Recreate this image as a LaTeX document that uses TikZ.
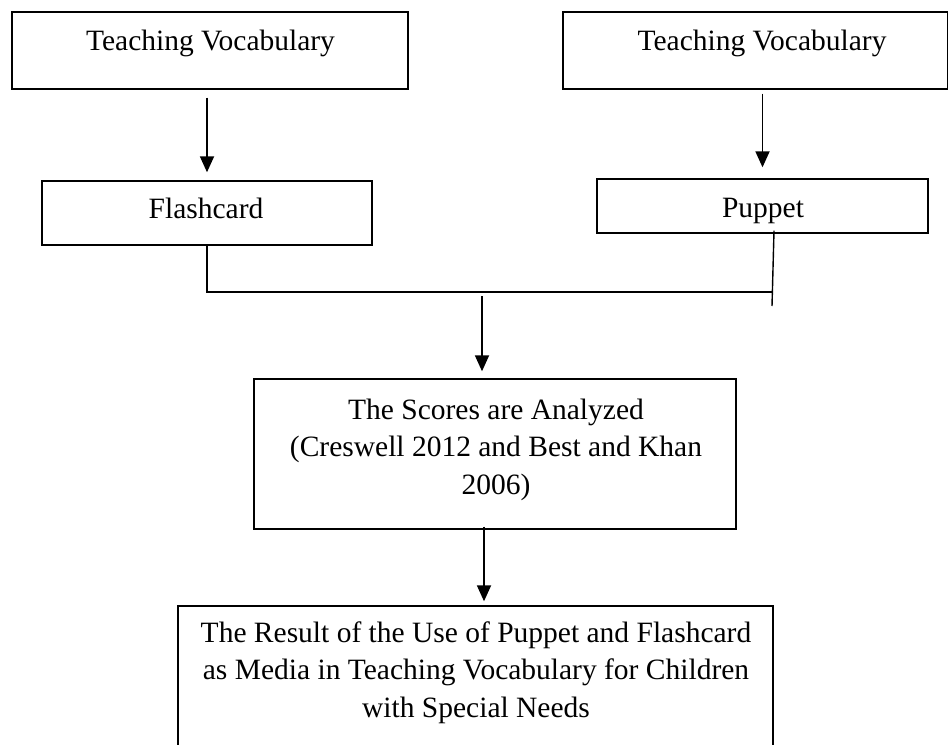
\documentclass[tikz,border=0pt]{standalone}
\usepackage{fontspec}
\setmainfont{Liberation Serif}
\usetikzlibrary{arrows.meta}
\begin{document}
\begin{tikzpicture}[x=1pt,y=-1pt,
  box/.style={draw,line width=1.4pt,inner sep=0pt,rectangle},
  txt/.style={font=\fontsize{29.5}{37.5}\selectfont,inner sep=0pt,align=center,anchor=base},
  arr/.style={line width=1.8pt,-{Triangle[length=16pt,width=14pt]}},
  ln/.style={line width=1.4pt}]
\clip (0,0) rectangle (949,744);
\fill[white] (0,0) rectangle (949,744);
% boxes
\node[box,minimum width=396pt,minimum height=77pt] (tv1) at (210,50.5) {};
\node[box,minimum width=384.5pt,minimum height=77pt] (tv2) at (755.25,50.5) {};
\node[box,minimum width=330pt,minimum height=64pt] (fc) at (207,213) {};
\node[box,minimum width=331pt,minimum height=54pt] (pp) at (762.5,206) {};
\node[box,minimum width=482pt,minimum height=150pt] (mid) at (495,454) {};
\node[box,minimum width=595pt,minimum height=158pt] (res) at (475.5,685) {};
% texts (anchor=base is the baseline of the last line)
\node[txt] (t1) at (210.5,50) {Teaching Vocabulary};
\node[txt] (t2) at (762,50) {Teaching Vocabulary};
\node[txt] (t3) at (206,218) {Flashcard};
\node[txt] (t4) at (763,217) {Puppet};
\node[txt] (t5) at (496,494) {The Scores are Analyzed\\(Creswell 2012 and Best and Khan\\2006)};
\node[txt] (t6) at (476,717) {The Result of the Use of Puppet and Flashcard\\as Media in Teaching Vocabulary for Children\\with Special Needs};
% connectors
\coordinate (jr) at (772,292);
\coordinate (pe) at (772,306);
\coordinate (ms) at (482,296);
\draw[arr,shorten <=8pt,shorten >=8pt] (tv1.south -| fc.north) -- (fc.north);
\draw[arr,shorten <=4pt,shorten >=11pt] (tv2.south -| pp.north) -- (pp.north);
\draw[ln] (fc.south) -- (fc.south |- jr) -- (jr);
\draw[ln] ([xshift=11.5pt,yshift=3pt]pp.south) -- (pe);
\draw[arr,shorten >=7pt] (ms) -- (ms |- mid.north);
\draw[arr,shorten >=4pt] ([xshift=-11pt,yshift=3pt]mid.south) -- ([xshift=-11pt]mid.south |- res.north);
\end{tikzpicture}
\end{document}
